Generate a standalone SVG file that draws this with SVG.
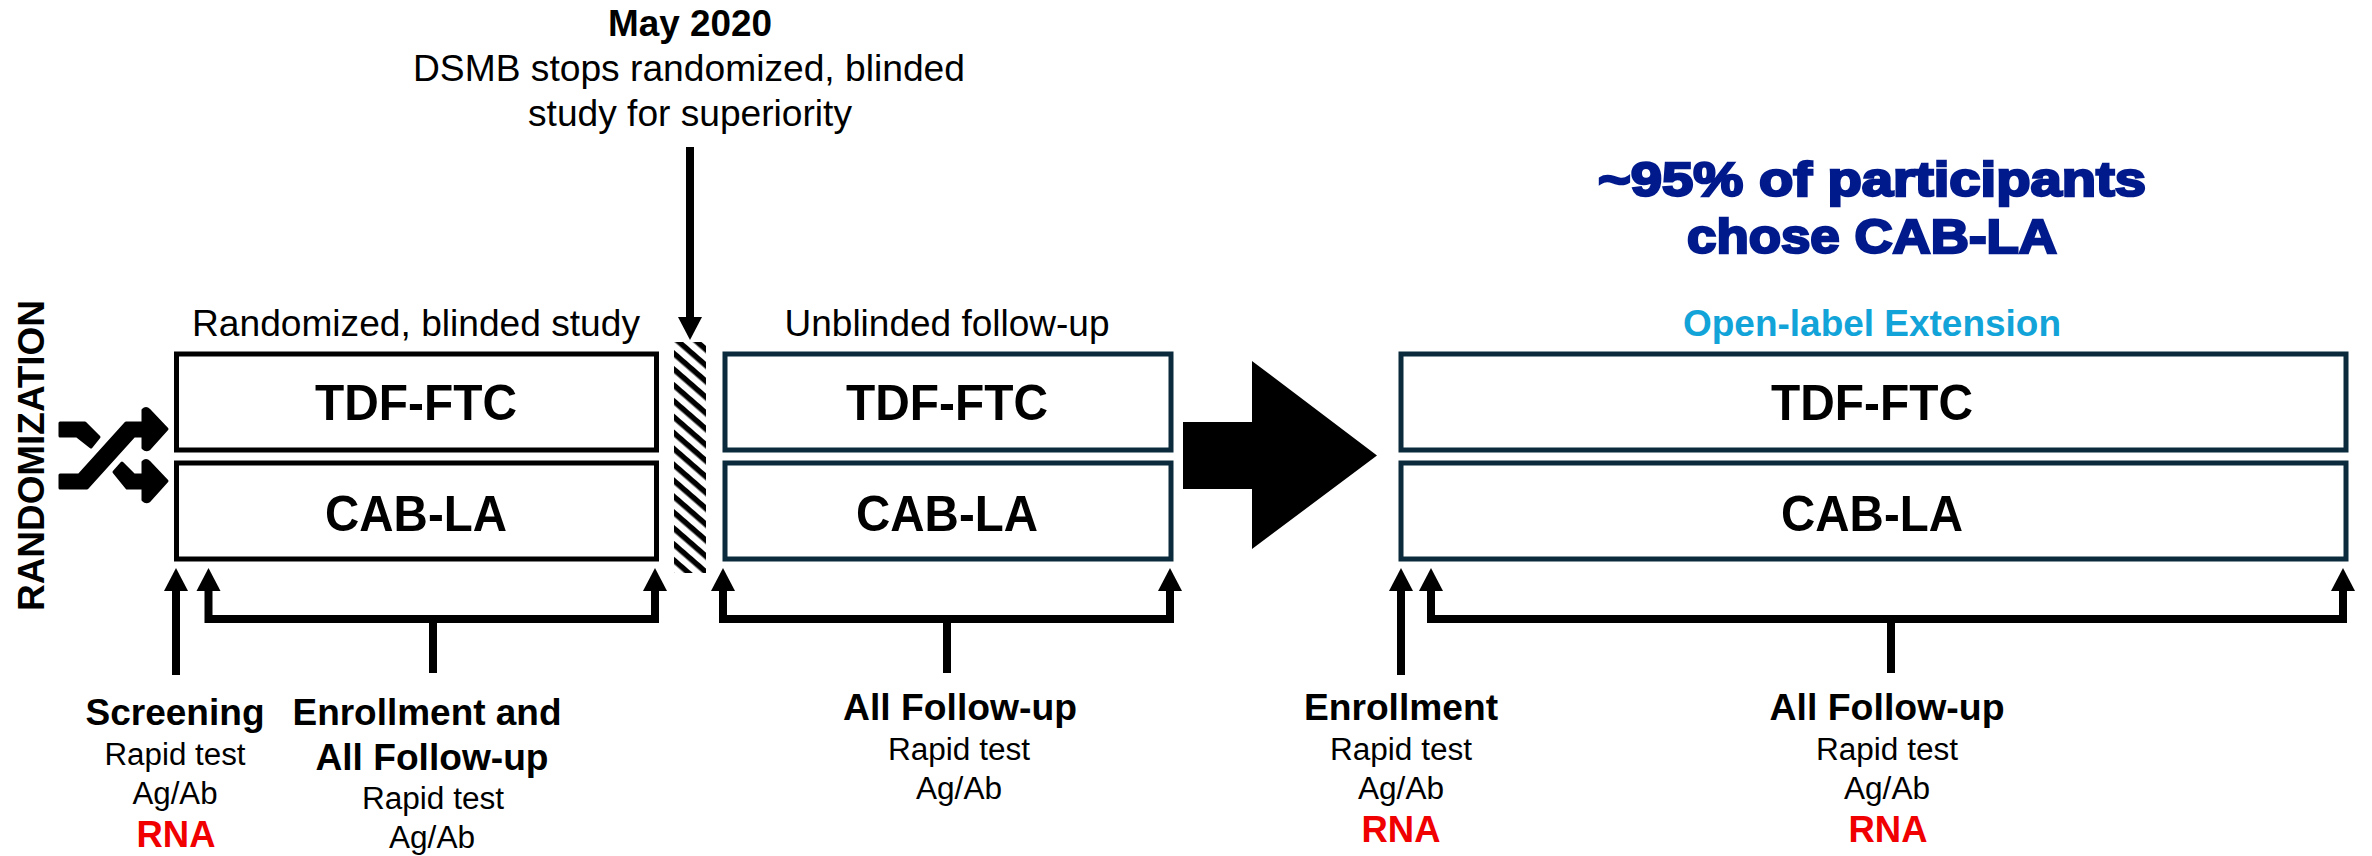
<svg xmlns="http://www.w3.org/2000/svg" width="2372" height="856" viewBox="0 0 2372 856">
<style>
text{font-family:"Liberation Sans",Arial,sans-serif;fill:#000;text-anchor:middle}
.b{font-weight:700}
.h{font-size:36px}
.arm{font-size:50px;font-weight:700}
.lab{font-size:36px;font-weight:700}
.sm{font-size:31px}
.rna{font-size:36px;font-weight:700;fill:#f00000}
.box{fill:#fff;stroke:#000;stroke-width:5}
.navy{fill:#fff;stroke:#0b2a3c;stroke-width:5}
.ln{fill:none;stroke:#000;stroke-width:8;stroke-linejoin:miter}
.hd{fill:#000;stroke:none}
</style>
<defs>
<pattern id="hatch" width="12" height="12" patternUnits="userSpaceOnUse" patternTransform="rotate(41 674 342)">
<rect width="12" height="12" fill="#fff"/><rect width="12" height="5.500" fill="#000"/>
</pattern>
<path id="up" d="M0 0L12 23H-12Z" fill="#000"/>
</defs>
<rect width="2372" height="856" fill="#fff"/>

<g id="randomization">
<text class="b" transform="translate(44 611) rotate(-90)" style="text-anchor:start;font-size:37.5px" textLength="311" lengthAdjust="spacingAndGlyphs">RANDOMIZATION</text>
<g fill="#000" stroke="#000" stroke-width="3" stroke-linejoin="round">
<path d="M60 423H85L99 437L91 447L77 436H60Z"/>
<path d="M60 475H79L126 423H143V410Q146 407 149 410L167 429L149 449Q146 451 143 448V436H134L87 488H60Z"/>
<path d="M114 472L122 463L134 475H143V462Q146 459 149 462L167 481L149 501Q146 503 143 500V488H127Z"/>
</g>
</g>

<g id="may-2020">
<text class="lab" x="690" y="36" textLength="164" lengthAdjust="spacingAndGlyphs">May 2020</text>
<text class="h" x="689" y="81" textLength="552" lengthAdjust="spacingAndGlyphs">DSMB stops randomized, blinded</text>
<text class="h" x="690" y="126" textLength="324" lengthAdjust="spacingAndGlyphs">study for superiority</text>
</g>

<g id="hatch-bar"><rect x="674" y="342" width="32" height="231" fill="url(#hatch)"/></g>

<g id="randomized-arm">
<text class="h" x="416" y="336" textLength="448" lengthAdjust="spacingAndGlyphs">Randomized, blinded study</text>
<rect class="box" x="176.500" y="354" width="480" height="96"/>
<rect class="box" x="176.500" y="463" width="480" height="96"/>
<text class="arm" x="416" y="420" textLength="202" lengthAdjust="spacingAndGlyphs">TDF-FTC</text>
<text class="arm" x="416" y="531" textLength="182" lengthAdjust="spacingAndGlyphs">CAB-LA</text>
</g>

<g id="unblinded-arm">
<text class="h" x="947" y="336" textLength="325" lengthAdjust="spacingAndGlyphs">Unblinded follow-up</text>
<rect class="navy" x="725" y="354" width="446" height="96"/>
<rect class="navy" x="725" y="463" width="446" height="96"/>
<text class="arm" x="947" y="420" textLength="202" lengthAdjust="spacingAndGlyphs">TDF-FTC</text>
<text class="arm" x="947" y="531" textLength="182" lengthAdjust="spacingAndGlyphs">CAB-LA</text>
</g>

<g id="open-label-arm">
<text class="b" x="1872" y="196" style="font-size:49px;fill:#001a8c;stroke:#001a8c;stroke-width:2.500" textLength="548" lengthAdjust="spacingAndGlyphs">~95% of participants</text>
<text class="b" x="1872" y="253" style="font-size:49px;fill:#001a8c;stroke:#001a8c;stroke-width:2.500" textLength="370" lengthAdjust="spacingAndGlyphs">chose CAB-LA</text>
<text class="b" x="1872" y="336" style="font-size:36px;fill:#12a3d8" textLength="378" lengthAdjust="spacingAndGlyphs">Open-label Extension</text>
<rect class="navy" x="1401" y="354" width="945" height="96"/>
<rect class="navy" x="1401" y="463" width="945" height="96"/>
<text class="arm" x="1872" y="420" textLength="202" lengthAdjust="spacingAndGlyphs">TDF-FTC</text>
<text class="arm" x="1872" y="531" textLength="182" lengthAdjust="spacingAndGlyphs">CAB-LA</text>
</g>

<g id="connectors">
<path class="ln" d="M690 147V318"/>
<use href="#up" transform="translate(690 340) rotate(180)"/>
<path class="hd" d="M1183 422H1252V361L1377 455.500L1252 549V489H1183Z"/>
<path class="ln" d="M176 675V590"/>
<use href="#up" x="176" y="568"/>
<path class="ln" d="M208.500 590V619H655V590"/>
<use href="#up" x="208.500" y="568"/><use href="#up" x="655" y="568"/>
<path class="ln" d="M433 619V673"/>
<path class="ln" d="M723 590V619H1170V590"/>
<use href="#up" x="723" y="568"/><use href="#up" x="1170" y="568"/>
<path class="ln" d="M947 619V673"/>
<path class="ln" d="M1401 675V590"/>
<use href="#up" x="1401" y="568"/>
<path class="ln" d="M1431 590V619H2343V590"/>
<use href="#up" x="1431" y="568"/><use href="#up" x="2343" y="568"/>
<path class="ln" d="M1891 619V673"/>
</g>

<g id="screening">
<text class="lab" x="175" y="725" textLength="179" lengthAdjust="spacingAndGlyphs">Screening</text>
<text class="sm" x="175" y="765" textLength="141" lengthAdjust="spacingAndGlyphs">Rapid test</text>
<text class="sm" x="175" y="804" textLength="85" lengthAdjust="spacingAndGlyphs">Ag/Ab</text>
<text class="rna" x="176" y="847" textLength="79" lengthAdjust="spacingAndGlyphs">RNA</text>
</g>
<g id="enrollment-followup">
<text class="lab" x="427" y="725" textLength="269" lengthAdjust="spacingAndGlyphs">Enrollment and</text>
<text class="lab" x="432" y="770" textLength="233" lengthAdjust="spacingAndGlyphs">All Follow-up</text>
<text class="sm" x="433" y="809" textLength="142" lengthAdjust="spacingAndGlyphs">Rapid test</text>
<text class="sm" x="432" y="848" textLength="86" lengthAdjust="spacingAndGlyphs">Ag/Ab</text>
</g>
<g id="unblinded-followup">
<text class="lab" x="960" y="720" textLength="234" lengthAdjust="spacingAndGlyphs">All Follow-up</text>
<text class="sm" x="959" y="760" textLength="142" lengthAdjust="spacingAndGlyphs">Rapid test</text>
<text class="sm" x="959" y="799" textLength="86" lengthAdjust="spacingAndGlyphs">Ag/Ab</text>
</g>
<g id="enrollment">
<text class="lab" x="1401" y="720" textLength="194" lengthAdjust="spacingAndGlyphs">Enrollment</text>
<text class="sm" x="1401" y="760" textLength="142" lengthAdjust="spacingAndGlyphs">Rapid test</text>
<text class="sm" x="1401" y="799" textLength="86" lengthAdjust="spacingAndGlyphs">Ag/Ab</text>
<text class="rna" x="1401" y="842" textLength="79" lengthAdjust="spacingAndGlyphs">RNA</text>
</g>
<g id="open-followup">
<text class="lab" x="1887" y="720" textLength="235" lengthAdjust="spacingAndGlyphs">All Follow-up</text>
<text class="sm" x="1887" y="760" textLength="142" lengthAdjust="spacingAndGlyphs">Rapid test</text>
<text class="sm" x="1887" y="799" textLength="86" lengthAdjust="spacingAndGlyphs">Ag/Ab</text>
<text class="rna" x="1888" y="842" textLength="79" lengthAdjust="spacingAndGlyphs">RNA</text>
</g>
</svg>
